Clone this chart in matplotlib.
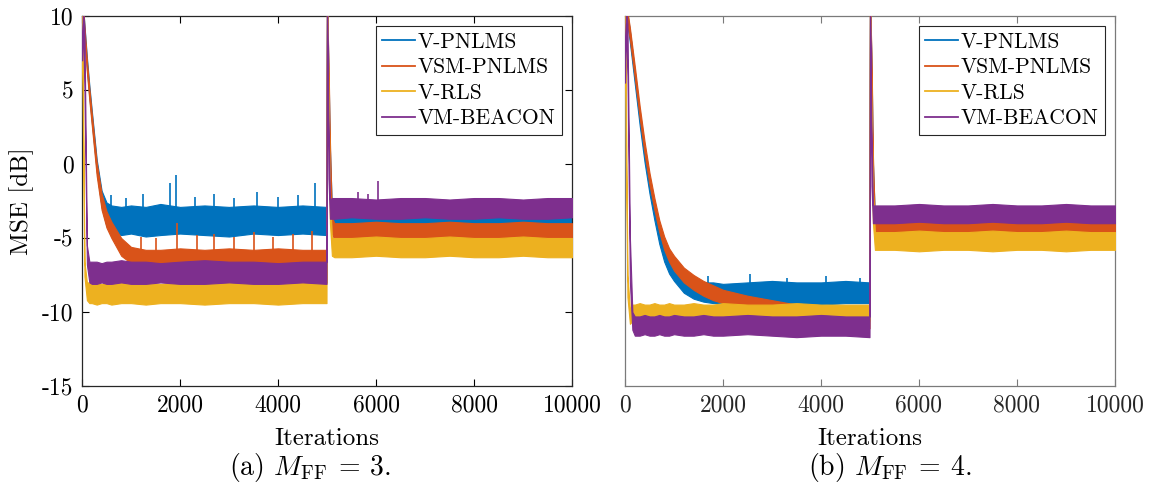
import matplotlib
matplotlib.use('Agg')
import matplotlib.pyplot as plt
from matplotlib.lines import Line2D

plt.rcParams['font.family'] = 'serif'
plt.rcParams['font.serif'] = ['cmr10']
plt.rcParams['mathtext.fontset'] = 'cm'
plt.rcParams['axes.unicode_minus'] = False

names = ['V-PNLMS', 'VSM-PNLMS', 'V-RLS', 'VM-BEACON']
colors = ['#0072BD', '#D95319', '#EDB120', '#7E2F8E']

# ---- (a) M_FF = 3 : band edges (lower / upper) of each MSE curve, in dB
xa = [0, 20, 50, 100, 150, 200, 300, 400, 500, 600, 800, 1000, 1300, 1600,
      2000, 2500, 3000, 3500, 4000, 4500, 4990, 5000, 5030, 5060, 5100, 5150,
      5500, 6000, 6500, 7000, 7500, 8000, 8500, 9000, 9500, 10000]
a_blue_lo = [9.8, 10.2, 8.7, 6.4, 4.5, 2.8, -0.5, -2.9, -4.2, -4.6, -4.8, -4.7, -4.9, -4.8,
             -4.7, -4.8, -4.9, -4.7, -4.8, -4.7, -4.8, 10.6, 3.0, -1.5, -4.0, -4.4,
             -4.4, -4.5, -4.4, -4.4, -4.5, -4.4, -4.4, -4.5, -4.4, -4.4]
a_blue_hi = [10.6, 10.8, 9.4, 7.2, 5.3, 3.6, 0.3, -1.8, -2.6, -2.8, -2.9, -2.8, -2.9, -2.7,
             -2.9, -2.8, -2.9, -2.8, -2.9, -2.8, -2.9, 11.0, 6.5, 1.0, -3.0, -3.3,
             -3.3, -3.2, -3.3, -3.3, -3.2, -3.3, -3.3, -3.2, -3.3, -3.3]
a_orange_lo = [9.8, 10.2, 8.5, 6.2, 4.3, 2.6, -0.8, -3.1, -4.3, -5.0, -6.2, -6.7, -6.9, -7.0,
               -6.9, -7.0, -6.9, -7.0, -6.9, -7.0, -6.9, 10.6, 4.0, -1.0, -4.7, -5.1,
               -5.1, -5.0, -5.1, -5.1, -5.0, -5.1, -5.1, -5.0, -5.1, -5.1]
a_orange_hi = [10.6, 10.8, 9.3, 7.0, 5.1, 3.4, 0.1, -2.0, -3.2, -3.9, -5.0, -5.6, -5.8, -5.8,
               -5.7, -5.8, -5.7, -5.8, -5.7, -5.8, -5.8, 11.0, 7.0, 1.5, -3.6, -4.0,
               -4.0, -3.9, -4.0, -4.0, -3.9, -4.0, -4.0, -3.9, -4.0, -4.0]
a_yellow_lo = [9.0, 2.0, -7.6, -9.2, -9.4, -9.4, -9.5, -9.4, -9.4, -9.5, -9.4, -9.4, -9.5, -9.4,
               -9.4, -9.5, -9.4, -9.4, -9.5, -9.4, -9.4, 10.6, 2.0, -4.0, -6.2, -6.3,
               -6.3, -6.2, -6.3, -6.3, -6.2, -6.3, -6.3, -6.2, -6.3, -6.3]
a_yellow_hi = [10.6, 5.0, -6.6, -8.0, -8.0, -8.0, -8.0, -8.1, -8.0, -8.0, -7.9, -8.0, -8.0, -8.1,
               -8.0, -7.9, -8.0, -8.0, -8.1, -8.0, -8.0, 11.0, 5.0, -2.0, -5.0, -5.0,
               -5.0, -4.9, -5.0, -5.0, -4.9, -5.0, -5.0, -4.9, -5.0, -5.0]
a_purple_lo = [7.0, 9.5, 5.0, -6.8, -8.0, -8.1, -8.1, -8.0, -8.1, -8.1, -8.0, -8.1, -8.1, -8.0,
               -8.1, -8.1, -8.0, -8.1, -8.1, -8.0, -8.1, 10.6, -1.0, -3.7, -3.7, -3.7,
               -3.6, -3.7, -3.7, -3.6, -3.7, -3.7, -3.6, -3.7, -3.7, -3.6]
a_purple_hi = [8.0, 10.6, 9.0, -5.5, -6.6, -6.6, -6.6, -6.7, -6.6, -6.6, -6.5, -6.6, -6.6, -6.7,
               -6.6, -6.5, -6.6, -6.6, -6.7, -6.6, -6.6, 11.0, 3.0, -2.4, -2.3, -2.3,
               -2.3, -2.4, -2.3, -2.3, -2.4, -2.3, -2.3, -2.4, -2.3, -2.3]
# isolated peaks (iteration, dB)
a_blue_spk_x = [600, 900, 1250, 1800, 1920, 2300, 2700, 3100, 3570, 4000, 4400, 4755]
a_blue_spk_y = [-2.1, -2.3, -2.0, -1.3, -0.75, -2.2, -2.0, -2.3, -1.9, -2.2, -2.1, -1.3]
a_orange_spk_x = [1200, 1500, 1940, 2350, 2700, 3100, 3500, 3900, 4300, 4700]
a_orange_spk_y = [-4.9, -5.0, -4.0, -4.8, -4.7, -4.9, -4.6, -4.9, -4.7, -4.5]
a_purple_spk_x = [5630, 5830, 6040]
a_purple_spk_y = [-1.9, -2.0, -1.15]

# ---- (b) M_FF = 4
xb = [0, 20, 50, 100, 150, 200, 300, 400, 500, 600, 700, 800, 900, 1000, 1200, 1400,
      1600, 1800, 2000, 2500, 3000, 3500, 4000, 4500, 4990, 5000, 5030, 5060, 5100,
      5150, 5500, 6000, 6500, 7000, 7500, 8000, 8500, 9000, 9500, 10000]
b_blue_lo = [10.0, 10.0, 9.4, 8.2, 6.8, 5.4, 2.6, 0.1, -2.0, -3.8, -5.4, -6.6, -7.4, -7.9,
             -8.7, -9.1, -9.3, -9.4, -9.4, -9.5, -9.4, -9.4, -9.5, -9.4, -9.4, 10.6,
             4.0, -2.5, -4.4, -4.5, -4.5, -4.4, -4.5, -4.5, -4.4, -4.5, -4.5, -4.4, -4.5, -4.5]
b_blue_hi = [10.6, 10.6, 10.2, 9.0, 7.6, 6.2, 3.4, 0.9, -1.2, -3.0, -4.5, -5.7, -6.5, -6.9,
             -7.6, -7.9, -8.0, -8.0, -8.1, -8.0, -7.9, -8.0, -8.0, -7.9, -8.0, 11.0,
             7.0, 0.0, -3.6, -3.6, -3.6, -3.5, -3.6, -3.6, -3.5, -3.6, -3.6, -3.5, -3.6, -3.6]
b_orange_lo = [10.0, 10.0, 9.5, 8.4, 7.1, 5.8, 3.1, 0.7, -1.4, -3.1, -4.6, -5.8, -6.6, -7.2,
               -8.0, -8.5, -8.9, -9.2, -9.4, -9.8, -10.1, -10.4, -10.6, -10.9, -11.1, 10.6,
               4.5, -2.0, -4.7, -4.8, -4.8, -4.7, -4.8, -4.8, -4.7, -4.8, -4.8, -4.7, -4.8, -4.8]
b_orange_hi = [10.6, 10.6, 10.3, 9.2, 7.9, 6.6, 3.9, 1.5, -0.6, -2.3, -3.8, -4.9, -5.7, -6.2,
               -7.0, -7.5, -7.9, -8.2, -8.5, -8.9, -9.2, -9.5, -9.8, -10.0, -10.2, 11.0,
               7.5, 0.5, -3.9, -4.0, -4.0, -3.9, -4.0, -4.0, -3.9, -4.0, -4.0, -3.9, -4.0, -4.0]
b_yellow_lo = [9.0, 0.0, -9.0, -10.8, -10.6, -10.6, -10.6, -10.7, -10.6, -10.6, -10.7, -10.6,
               -10.6, -10.7, -10.6, -10.6, -10.7, -10.6, -10.6, -10.7, -10.6, -10.6, -10.7,
               -10.6, -10.6, 10.6, 1.0, -4.0, -5.8, -5.8, -5.8, -5.9, -5.8, -5.8, -5.9, -5.8,
               -5.8, -5.9, -5.8, -5.8]
b_yellow_hi = [10.6, 4.0, -7.5, -9.8, -9.5, -9.5, -9.4, -9.5, -9.5, -9.4, -9.5, -9.5, -9.4,
               -9.5, -9.5, -9.4, -9.5, -9.5, -9.4, -9.5, -9.5, -9.4, -9.5, -9.5, -9.5, 11.0,
               4.0, -2.0, -4.6, -4.6, -4.6, -4.5, -4.6, -4.6, -4.5, -4.6, -4.6, -4.5, -4.6, -4.6]
b_purple_lo = [5.5, 9.5, 6.0, -8.0, -11.2, -11.6, -11.6, -11.5, -11.6, -11.6, -11.5, -11.6,
               -11.6, -11.5, -11.6, -11.6, -11.5, -11.6, -11.6, -11.5, -11.6, -11.7, -11.6,
               -11.6, -11.7, 10.6, -1.5, -4.0, -4.0, -4.0, -4.0, -3.9, -4.0, -4.0, -3.9,
               -4.0, -4.0, -3.9, -4.0, -4.0]
b_purple_hi = [7.5, 10.6, 9.5, -5.0, -10.0, -10.3, -10.3, -10.2, -10.3, -10.3, -10.2, -10.3,
               -10.3, -10.2, -10.3, -10.3, -10.2, -10.3, -10.3, -10.2, -10.3, -10.3, -10.2,
               -10.3, -10.3, 11.0, 2.5, -2.8, -2.8, -2.8, -2.8, -2.7, -2.8, -2.8, -2.7, -2.8,
               -2.8, -2.7, -2.8, -2.8]
b_blue_spk_x = [1700, 2550, 3300, 4100, 4800]
b_blue_spk_y = [-7.6, -7.4, -7.7, -7.6, -7.7]

xticks = [0, 2000, 4000, 6000, 8000, 10000]
yticks = [-15, -10, -5, 0, 5, 10]

W, H = 1153, 495
fig = plt.figure(figsize=(W / 100, H / 100), dpi=100)
ax1 = fig.add_axes([82 / W, 1 - 386 / H, 490 / W, 370 / H])
ax2 = fig.add_axes([625 / W, 1 - 386 / H, 490 / W, 370 / H])

panels = [
    (ax1, xa, [(a_blue_lo, a_blue_hi), (a_orange_lo, a_orange_hi),
               (a_yellow_lo, a_yellow_hi), (a_purple_lo, a_purple_hi)],
     [(a_blue_spk_x, a_blue_spk_y, -3.8), (a_orange_spk_x, a_orange_spk_y, -6.3),
      None, (a_purple_spk_x, a_purple_spk_y, -3.0)]),
    (ax2, xb, [(b_blue_lo, b_blue_hi), (b_orange_lo, b_orange_hi),
               (b_yellow_lo, b_yellow_hi), (b_purple_lo, b_purple_hi)],
     [(b_blue_spk_x, b_blue_spk_y, -8.7), None, None, None]),
]

for ax, x, bands, spikes in panels:
    for i, (lo, hi) in enumerate(bands):
        ax.fill_between(x, lo, hi, color=colors[i], lw=0.8, zorder=2 + i)
        if spikes[i] is not None:
            sx, sy, base = spikes[i]
            ax.vlines(sx, base, sy, color=colors[i], lw=1.2, zorder=2 + i)
    ax.set_xlim(0, 10000)
    ax.set_ylim(-15, 10)
    ax.set_xticks(xticks)
    ax.set_xticklabels([str(v) for v in xticks])
    ax.tick_params(direction='in', length=5, width=0.8, top=True, right=True,
                   labelsize=17, pad=6)
    ax.set_xlabel('Iterations', fontsize=18, labelpad=8)

ax1.set_yticks(yticks)
ax1.set_yticklabels([str(v) for v in yticks])
ax1.set_ylabel('MSE [dB]', fontsize=18, labelpad=6)
ax2.set_yticks([])
for s in ax1.spines.values():
    s.set_color('#262626')
    s.set_linewidth(0.9)
for s in ax2.spines.values():
    s.set_color('#7a7a7a')
    s.set_linewidth(0.9)
ax2.tick_params(colors='#7a7a7a', labelcolor='#262626')

for ax in (ax1, ax2):
    handles = [Line2D([], [], color=c, lw=1.3) for c in colors]
    leg = ax.legend(handles, names, loc='upper right', fontsize=15.5, frameon=True,
                    fancybox=False, framealpha=1, edgecolor='#262626',
                    borderaxespad=0.45, handlelength=1.55, handletextpad=0.12,
                    labelspacing=0.28, borderpad=0.3)
    leg.get_frame().set_linewidth(0.8)
    leg.set_zorder(10)

fig.text(310 / W, 1 - 467 / H, r'(a) $M_{\mathrm{FF}}\:=\:3$.', fontsize=20,
         ha='center', va='center')
fig.text(890 / W, 1 - 467 / H, r'(b) $M_{\mathrm{FF}}\:=\:4$.', fontsize=20,
         ha='center', va='center')

fig.savefig('out.png', dpi=100)
